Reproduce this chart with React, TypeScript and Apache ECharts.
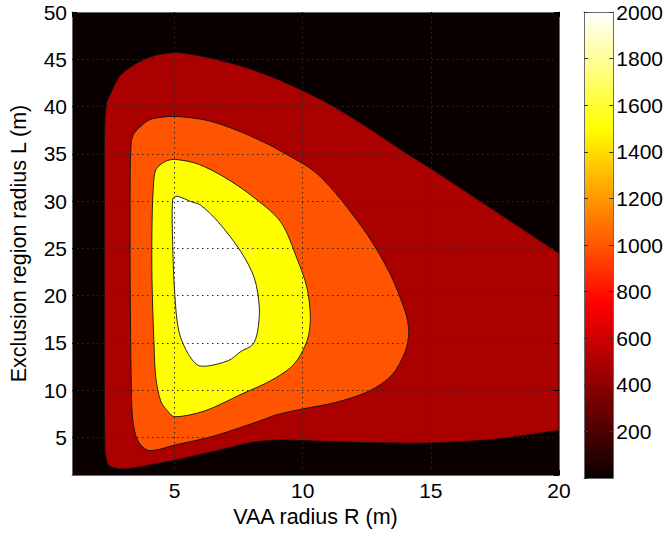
import React, { useEffect, useRef } from 'react';
import * as echarts from 'echarts';

// Axis ranges
const xRange = [1, 20];
const yRange = [1, 50];
const climRange = [0, 2000];

// Filled-contour levels (lower bound of each filled band)
const contourLevels = [500, 1000, 1500, 2000];

// Contour polygons [R (m), L (m)]
const contour500: number[][] = [
  [2.45, 2.0], [2.32, 3.0], [2.28, 4.3], [2.26, 10], [2.26, 20], [2.26, 30],
  [2.27, 37.3], [2.35, 40.4], [2.46, 41.1], [2.92, 43.4], [4.01, 45.2],
  [5.04, 45.7], [6.07, 45.3], [7.46, 44.4], [9.0, 42.9], [10.8, 40.6],
  [12.35, 38.1], [13.9, 35.3], [14.9, 33.6], [16.7, 30.4], [19.9, 24.65], [20, 24.5],
  [20, 24.3], [20, 5.9], [20, 5.7], [19.9, 5.68], [17.5, 4.8], [14.9, 4.4], [12.35, 4.45], [10.0, 4.65],
  [9.0, 4.72], [8.0, 4.45], [6.6, 3.55], [5.3, 2.75], [4.0, 2.05],
  [3.0, 1.65],
];

const contour1000: number[][] = [
  [3.27, 21.8], [3.27, 32.3], [3.29, 35.0], [3.37, 36.9], [3.76, 38.1],
  [4.14, 38.7], [5.04, 38.95], [6.32, 38.5], [7.46, 37.45], [8.5, 36.2],
  [9.0, 35.5], [10.6, 32.8], [12.35, 27.1], [13.37, 22.5], [14.0, 18.3],
  [14.14, 16.2], [14.0, 14.1], [13.5, 11.65], [12.6, 9.9], [11.3, 8.7],
  [10.0, 8.0], [9.0, 7.4], [8.5, 6.9], [6.58, 5.17], [5.04, 4.2],
  [4.0, 3.6], [3.57, 4.65], [3.37, 6.9], [3.31, 11.3],
];

const contour1500: number[][] = [
  [4.12, 21.8], [4.12, 27.1], [4.17, 31.3], [4.27, 33.3], [4.65, 34.2],
  [5.04, 34.4], [5.93, 33.9], [6.96, 32.5], [7.99, 30.6], [9.14, 27.8],
  [9.78, 23.9], [10.17, 20.8], [10.3, 17.6], [10.17, 15.2], [9.65, 12.7],
  [8.76, 11.0], [7.6, 9.55], [6.19, 7.8], [5.01, 7.17], [4.72, 7.8],
  [4.46, 8.85], [4.27, 11.3], [4.2, 14.8],
];

const contour2000: number[][] = [
  [4.93, 25.3], [4.93, 30.2], [5.1, 30.5], [5.68, 29.9], [6.0, 29.6],
  [6.7, 27.8], [7.6, 24.6], [8.12, 21.8], [8.31, 18.7], [8.24, 16.2],
  [8.05, 14.8], [7.6, 14.1], [7.09, 13.1], [6.0, 12.54], [5.55, 13.75],
  [5.17, 16.2], [5.01, 20.1],
];

const contours = [contour500, contour1000, contour1500, contour2000];

// MATLAB "hot" colormap
function hot(v: number): string {
  const t = Math.max(0, Math.min(1, (v - climRange[0]) / (climRange[1] - climRange[0])));
  const r = Math.max(1 / 24, Math.min(1, t / 0.375));
  const g = Math.max(0, Math.min(1, (t - 0.375) / 0.375));
  const b = Math.max(0, Math.min(1, (t - 0.75) / 0.25));
  const h = (c: number) => Math.round(c * 255).toString(16).padStart(2, '0');
  return '#' + h(r) + h(g) + h(b);
}

const FONT = 'Liberation Sans';
const BORDER = '#6a6a6a';

export default function App() {
  const ref = useRef<HTMLDivElement>(null);
  useEffect(() => {
    document.body.style.margin = '0';
    if (!ref.current) return;
    const chart = echarts.init(ref.current, undefined, { renderer: 'svg' });
    const tickStyle = { fontFamily: FONT, fontSize: 21, color: '#000' };
    const nameStyle = { fontFamily: FONT, fontSize: 21.5, color: '#000' };
    const gridSplit = { show: true, lineStyle: { color: '#2a2a2a', type: [1.5, 3.5] as any, width: 1 } };
    const option: any = {
      animation: false,
      backgroundColor: '#ffffff',
      grid: [
        { left: 65, top: 12, width: 494, height: 466, show: true, backgroundColor: hot(climRange[0]), borderWidth: 0 },
        { left: 584, top: 12, width: 30, height: 466, show: false },
      ],
      xAxis: [
        {
          gridIndex: 0, type: 'value', position: 'bottom', min: xRange[0], max: xRange[1], splitNumber: 4, z: 10,
          name: 'VAA radius R (m)', nameLocation: 'middle', nameGap: 21,
          nameTextStyle: { ...nameStyle },
          axisLine: { show: true, onZero: false, lineStyle: { color: BORDER, width: 1 } },
          axisTick: { show: true, inside: true, length: 5, lineStyle: { color: '#000' } },
          axisLabel: { ...tickStyle, margin: 5, showMinLabel: false },
          splitLine: gridSplit,
        },
        {
          gridIndex: 0, type: 'value', position: 'top', min: xRange[0], max: xRange[1], splitNumber: 4, z: 10,
          axisLine: { show: true, onZero: false, lineStyle: { color: BORDER, width: 1 } },
          axisTick: { show: true, inside: true, length: 5, lineStyle: { color: '#000' } },
          axisLabel: { show: false }, splitLine: { show: false },
        },
        {
          gridIndex: 1, type: 'value', position: 'bottom', min: 0, max: 1, z: 10,
          axisLine: { show: true, onZero: false, lineStyle: { color: BORDER, width: 1 } },
          axisTick: { show: false }, axisLabel: { show: false }, splitLine: { show: false },
        },
        {
          gridIndex: 1, type: 'value', position: 'top', min: 0, max: 1, z: 10,
          axisLine: { show: true, onZero: false, lineStyle: { color: BORDER, width: 1 } },
          axisTick: { show: false }, axisLabel: { show: false }, splitLine: { show: false },
        },
      ],
      yAxis: [
        {
          gridIndex: 0, type: 'value', position: 'left', min: yRange[0], max: yRange[1], splitNumber: 10, z: 10,
          name: 'Exclusion region radius L (m)', nameLocation: 'middle', nameGap: 42,
          nameTextStyle: { ...nameStyle },
          axisLine: { show: true, onZero: false, lineStyle: { color: BORDER, width: 1 } },
          axisTick: { show: true, inside: true, length: 5, lineStyle: { color: '#000' } },
          axisLabel: { ...tickStyle, margin: 5, showMinLabel: false },
          splitLine: gridSplit,
        },
        {
          gridIndex: 0, type: 'value', position: 'right', min: yRange[0], max: yRange[1], splitNumber: 10, z: 10,
          axisLine: { show: true, onZero: false, lineStyle: { color: BORDER, width: 1 } },
          axisTick: { show: true, inside: true, length: 5, lineStyle: { color: '#000' } },
          axisLabel: { show: false }, splitLine: { show: false },
        },
        {
          gridIndex: 1, type: 'value', position: 'right', min: climRange[0], max: climRange[1], interval: 200, z: 10,
          axisLine: { show: true, onZero: false, lineStyle: { color: BORDER, width: 1 } },
          axisTick: { show: true, inside: true, length: 4, lineStyle: { color: '#333' } },
          axisLabel: { ...tickStyle, margin: 3, showMinLabel: false, formatter: (v: number) => String(v) },
          splitLine: { show: false },
        },
        {
          gridIndex: 1, type: 'value', position: 'left', min: climRange[0], max: climRange[1], interval: 200, z: 10,
          axisLine: { show: true, onZero: false, lineStyle: { color: BORDER, width: 1 } },
          axisTick: { show: true, inside: true, length: 4, lineStyle: { color: '#333' } },
          axisLabel: { show: false }, splitLine: { show: false },
        },
      ],
      series: [
        {
          type: 'custom',
          xAxisIndex: 0,
          yAxisIndex: 0,
          clip: true,
          silent: true,
          data: contourLevels.map((lv, i) => [i, lv]),
          renderItem: (params: any, api: any) => {
            const i = params.dataIndex;
            const cs = params.coordSys;
            const pts = contours[i].map((p) => api.coord(p));
            return {
              type: 'polygon',
              shape: {
                points: pts,
                smooth: 0.3,
                smoothConstraint: [[cs.x, cs.y], [cs.x + cs.width, cs.y + cs.height]],
              },
              style: { fill: hot(contourLevels[i]), stroke: '#111', lineWidth: 0.9 },
            };
          },
        },
        {
          type: 'custom',
          xAxisIndex: 2,
          yAxisIndex: 2,
          silent: true,
          data: [[0, climRange[1]]],
          renderItem: (_params: any, api: any) => {
            const p0 = api.coord([0, climRange[0]]);
            const p1 = api.coord([1, climRange[1]]);
            return {
              type: 'rect',
              shape: { x: p0[0], y: p1[1], width: p1[0] - p0[0], height: p0[1] - p1[1] },
              style: {
                fill: new echarts.graphic.LinearGradient(0, 1, 0, 0, [
                  { offset: 0, color: hot(climRange[0]) },
                  { offset: 0.375, color: '#ff0000' },
                  { offset: 0.75, color: '#ffff00' },
                  { offset: 1, color: '#ffffff' },
                ]),
              },
            };
          },
        },
      ],
    };
    chart.setOption(option);
    return () => chart.dispose();
  }, []);
  return <div ref={ref} style={{ width: 666, height: 533 }} />;
}
